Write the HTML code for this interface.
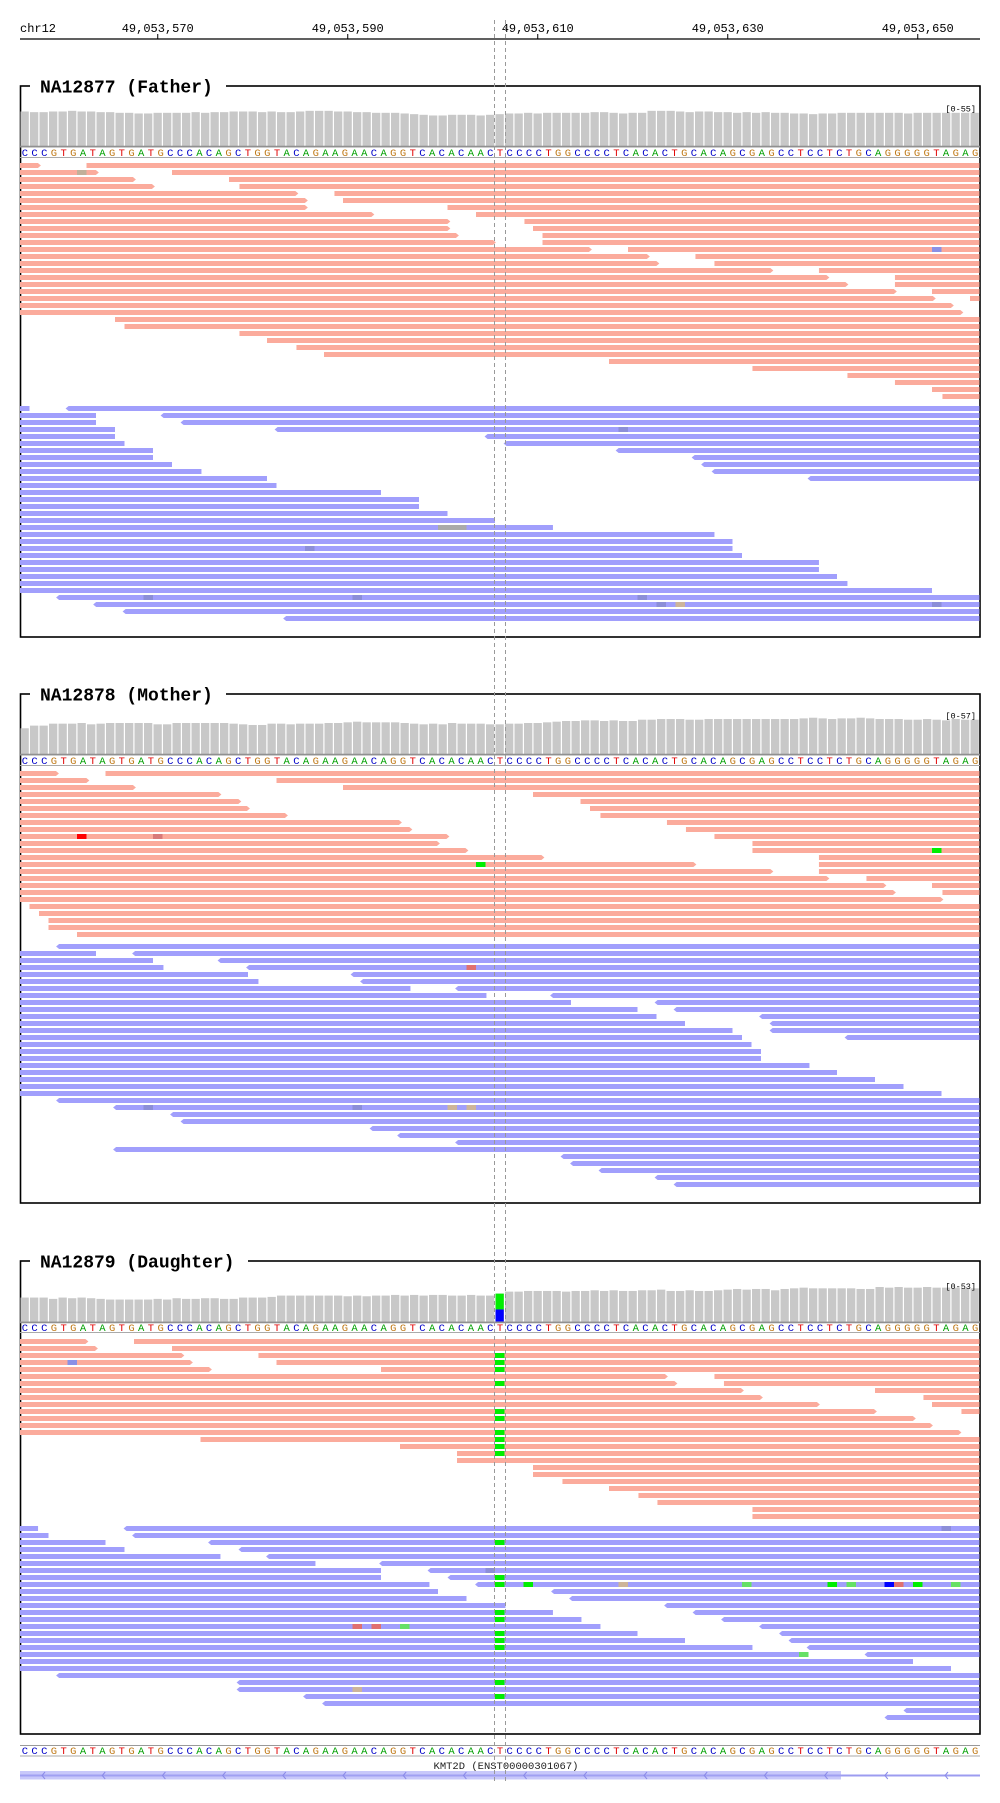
<!DOCTYPE html>
<html><head><meta charset="utf-8"><title>IGV trio view</title>
<style>
html,body{margin:0;padding:0;background:#fff;}
svg{display:block;}
text{font-family:"Liberation Mono","DejaVu Sans Mono",monospace;}
</style></head>
<body>
<svg id="igv" width="1000" height="1803" viewBox="0 0 1000 1803" xmlns="http://www.w3.org/2000/svg"></svg>
<script>
// ---------- data ----------
const tickLabels = ["49,053,570","49,053,590","49,053,610","49,053,630","49,053,650"];
const tickBp = [14.5, 34.5, 54.5, 74.5, 94.5];
const refSeq = "CCCGTGATAGTGATGCCCACAGCTGGTACAGAAGAACAGGTCACACAACTCCCCTGGCCCCTCACACTGCACAGCGAGCCTCCTCTGCAGGGGGTAGAG";

const fatherCov = [52,51,51,52,52,53,52,52,51,51,50,50,49,49,50,50,50,50,51,50,51,51,52,52,52,51,52,51,51,52,53,53,53,52,52,51,51,50,50,50,49,48,47,46,46,47,47,47,46,47,48,49,49,50,49,50,50,50,50,50,51,51,50,49,50,50,53,53,53,52,51,52,52,51,51,50,51,50,51,50,50,49,49,48,49,49,50,50,50,50,50,50,50,49,50,50,50,50,50,50,50];
const motherCov = [39,43,43,46,46,46,47,45,46,47,47,47,47,47,45,45,47,47,47,47,47,47,46,45,44,44,46,46,45,46,46,46,47,47,48,49,48,48,48,48,47,46,45,46,45,47,46,46,46,45,45,46,46,47,47,48,49,50,50,51,51,50,51,50,50,52,52,53,53,53,52,52,53,53,53,53,53,53,53,53,53,53,54,55,54,53,54,54,55,54,53,53,53,52,52,53,52,51,53,52,52];
const daughterCov = [37,37,37,35,37,36,37,36,35,34,34,34,34,34,35,34,36,35,35,36,36,35,35,37,37,37,38,40,40,40,40,40,40,40,39,40,39,40,40,41,40,41,40,41,41,40,40,41,40,40,43,46,46,47,47,47,47,46,47,47,48,47,48,47,47,48,48,49,47,47,48,47,47,48,49,50,49,50,50,48,50,51,52,51,51,51,51,51,50,50,53,52,53,52,52,53,52,52,52,51,51];
const daughterAltBp = 50;
const daughterAltC = 19;

const fatherFwd = [[0,0,2.2],[0,7,101],[1,0,8.3],[1,16,101],[2,0,12.2],[2,22,101],[3,0,14.2],[3,23.1,101],[4,0,29.3],[4,33.1,101],[5,0,30.3],[5,34,101],[6,0,30.3],[6,45,101],[7,0,37.3],[7,48,101],[8,0,45.3],[8,53.1,101],[9,0,45.3],[9,54,101],[10,0,46.2],[10,55,101],[11,0,50.1],[11,55,101],[12,0,60.2],[12,64,101],[13,0,66.3],[13,71.1,101],[14,0,67.3],[14,73.1,101],[15,0,79.3],[15,84.1,101],[16,0,85.2],[16,92.1,101],[17,0,87.2],[17,92.1,101],[18,0,92.3],[18,96,101],[19,0,96.4],[19,100,101],[20,0,98.3],[21,0,99.3],[22,10,101],[23,11,101],[24,23.1,101],[25,26,101],[26,29.1,101],[27,32,101],[28,62,101],[29,77.1,101],[30,87.1,101],[31,92.1,101],[32,96,101],[33,97.1,101]];
const fatherFwdMM = [[1,6,"#c2b09a",1],[12,96,"#8a90e6",1]];
const fatherRev = [[0,0,1],[0,4.8,101],[1,0,8],[1,14.8,101],[2,0,8],[2,16.9,101],[3,0,10],[3,26.8,101],[4,0,10],[4,48.9,101],[5,0,11],[5,50.9,101],[6,0,14],[6,62.7,101],[7,0,14],[7,70.7,101],[8,0,16],[8,71.7,101],[9,0,19.1],[9,72.8,101],[10,0,26],[10,82.9,101],[11,0,27],[12,0,38],[13,0,42],[14,0,42],[15,0,45],[16,0,50],[17,0,56.1],[18,0,73.1],[19,0,75],[20,0,75],[21,0,76],[22,0,84.1],[23,0,84.1],[24,0,86],[25,0,87.1],[26,0,96],[27,3.8,101],[28,7.7,101],[29,10.8,101],[30,27.7,101]];
const fatherRevMM = [[3,63,"#8c8ed8",1],[17,44,"#aaaaaa",3],[20,30,"#8c8ed8",1],[27,13,"#8c8ed8",1],[27,35,"#8c8ed8",1],[27,65,"#8c8ed8",1],[28,67,"#8c8ed8",1],[28,69,"#cdb49a",1],[28,96,"#8c8ed8",1]];

const motherFwd = [[0,0,4.1],[0,9,101],[1,0,7.3],[1,27,101],[2,0,12.2],[2,34,101],[3,0,21.2],[3,54,101],[4,0,23.3],[4,59,101],[5,0,24.2],[5,60,101],[6,0,28.2],[6,61.1,101],[7,0,40.2],[7,68.1,101],[8,0,41.3],[8,70.1,101],[9,0,45.2],[9,73.1,101],[10,0,44.2],[10,77.1,101],[11,0,47.2],[11,77.1,101],[12,0,55.2],[12,84.1,101],[13,0,71.2],[13,84.1,101],[14,0,79.3],[14,84.1,101],[15,0,85.2],[15,89.1,101],[16,0,91.2],[16,96,101],[17,0,92.2],[17,97.1,101],[18,0,97.2],[19,1,101],[20,2,101],[21,3,101],[22,3,101],[23,6,101]];
const motherFwdMM = [[9,6,"#ff0000",1],[9,14,"#d87a7a",1],[11,96,"#00ee00",1],[13,48,"#00ee00",1]];
const motherRev = [[0,3.8,101],[1,0,8],[1,11.8,101],[2,0,14],[2,20.8,101],[3,0,15.1],[3,23.8,101],[4,0,24],[4,34.8,101],[5,0,25.1],[5,35.8,101],[6,0,41.1],[6,45.8,101],[7,0,49.1],[7,55.8,101],[8,0,58],[8,66.8,101],[9,0,65],[9,68.8,101],[10,0,67],[10,77.8,101],[11,0,70],[11,78.9,101],[12,0,75],[12,78.9,101],[13,0,76],[13,86.8,101],[14,0,77],[15,0,78],[16,0,78],[17,0,83.1],[18,0,86],[19,0,90],[20,0,93],[21,0,97],[22,3.8,101],[23,9.8,101],[24,15.8,101],[25,16.9,101],[26,36.8,101],[27,39.7,101],[28,45.8,101],[29,9.8,101],[30,56.9,101],[31,57.9,101],[32,60.9,101],[33,66.8,101],[34,68.8,101]];
const motherRevMM = [[3,47,"#e07070",1],[23,13,"#8c8ed8",1],[23,35,"#8c8ed8",1],[23,45,"#cdb49a",1],[23,47,"#cdb49a",1]];

const daughterFwd = [[0,0,7.2],[0,12,101],[1,0,8.2],[1,16,101],[2,0,17.3],[2,25.1,101],[3,0,18.2],[3,27,101],[4,0,20.2],[4,38,101],[5,0,68.2],[5,73.1,101],[6,0,69.2],[6,74.1,101],[7,0,76.2],[7,90,101],[8,0,78.2],[8,95.1,101],[9,0,84.2],[9,96,101],[10,0,90.2],[10,99.1,101],[11,0,94.3],[12,0,96.1],[13,0,99.1],[14,19,101],[15,40,101],[16,46,101],[17,46,101],[18,54,101],[19,54,101],[20,57.1,101],[21,62,101],[22,65.1,101],[23,67.1,101],[24,77.1,101],[25,77.1,101]];
const daughterFwdMM = [[2,50,"#00ee00",1],[3,50,"#00ee00",1],[4,50,"#00ee00",1],[6,50,"#00ee00",1],[10,50,"#00ee00",1],[11,50,"#00ee00",1],[13,50,"#00ee00",1],[14,50,"#00ee00",1],[15,50,"#00ee00",1],[16,50,"#00ee00",1],[3,5,"#8a90e6",1]];
const daughterRev = [[0,0,1.9],[0,10.9,101],[1,0,3],[1,11.8,101],[2,0,9],[2,19.8,101],[3,0,11],[3,23,101],[4,0,21.1],[4,25.9,101],[5,0,31.1],[5,37.8,101],[6,0,38],[6,42.9,101],[7,0,38],[7,45,101],[8,0,43.1],[8,47.9,101],[9,0,44],[9,55.9,101],[10,0,47],[10,57.8,101],[11,0,51.1],[11,67.8,101],[12,0,56.1],[12,70.8,101],[13,0,59.1],[13,73.8,101],[14,0,61.1],[14,77.8,101],[15,0,65],[15,79.9,101],[16,0,70],[16,80.9,101],[17,0,77.1],[17,82.8,101],[18,0,82.7],[18,88.9,101],[19,0,94],[20,0,98],[21,3.8,101],[22,22.8,101],[23,22.8,101],[24,29.8,101],[25,31.8,101],[26,93,101],[27,91,101]];
const daughterRevMM = [[0,97,"#8c8ed8",1],[2,50,"#00ee00",1],[6,49,"#8c8ed8",1],[7,50,"#00ee00",1],[8,50,"#00ee00",1],[8,53,"#00ee00",1],[8,63,"#cdb49a",1],[8,76,"#66e066",1],[8,85,"#00ee00",1],[8,87,"#66e066",1],[8,91,"#0000ff",1],[8,92,"#e07070",1],[8,94,"#00ee00",1],[8,98,"#66e066",1],[12,50,"#00ee00",1],[13,50,"#00ee00",1],[14,35,"#e07070",1],[14,37,"#e07070",1],[14,40,"#66e066",1],[15,50,"#00ee00",1],[16,50,"#00ee00",1],[17,50,"#00ee00",1],[18,82,"#66e066",1],[22,50,"#00ee00",1],[23,35,"#cdb49a",1],[24,50,"#00ee00",1]];

const trackNames = ["NA12877 (Father)","NA12878 (Mother)","NA12879 (Daughter)"];
const covMax = [55,57,53];

// ---------- layout ----------
const svg = document.getElementById('igv');
const NS = "http://www.w3.org/2000/svg";
const X0 = 20, BPW = 9.5, XR = 980;
function x(bp){ return X0 + bp*BPW; }
function mk(tag, attrs, parent){
  const e = document.createElementNS(NS, tag);
  for (const k in attrs) e.setAttribute(k, attrs[k]);
  (parent||svg).appendChild(e);
  return e;
}
const layout = [
  {top:86, bottom:637, covBase:146, covH:36.5, seqY:156, seqLine:157.5, fwd:163, rev:406, titleW:196},
  {top:694, bottom:1203, covBase:754, covH:37.6, seqY:764, seqLine:765.5, fwd:771, rev:944, titleW:196},
  {top:1261, bottom:1734, covBase:1322, covH:35, seqY:1331, seqLine:1332.5, fwd:1339, rev:1526, titleW:218}
];
const baseColor = {A:"#00a000", C:"#0000c8", G:"#c07a18", T:"#e00000"};

// ruler
let g = mk('g', {});


let t = mk('text', {x:20, y:32, 'font-size':12, fill:'#000'}, g);
t.textContent = 'chr12';


let ln = mk('line', {x1:20, y1:39, x2:980, y2:39, stroke:'#000', 'stroke-width':1.3}, g);


tickLabels.forEach((lab,i)=>{
  const tx = x(tickBp[i]);
  const tk = mk('line', {x1:tx, y1:34, x2:tx, y2:39, stroke:'#000', 'stroke-width':1}, g);
  
  
  const tl = mk('text', {x:tx, y:32, 'font-size':12, 'text-anchor':'middle', fill:'#000'}, g);
  tl.textContent = lab;
  
  
});

function drawSeq(parent, y, lineY){
  const top = mk('line', {x1:20, y1:lineY-10.5, x2:980, y2:lineY-10.5, stroke:'#999', 'stroke-width':1}, parent);
  
  
  const bot = mk('line', {x1:20, y1:lineY, x2:980, y2:lineY, stroke:'#aaa', 'stroke-width':1}, parent);
  
  
  const step = 960/refSeq.length;
  for (let i=0;i<refSeq.length;i++){
    const c = refSeq[i];
    const s = mk('text', {x:20+step*(i+0.5), y:y, 'font-size':10.5, 'text-anchor':'middle', fill:baseColor[c]}, parent);
    s.textContent = c;
    
    
  }
}

function drawReads(parent, reads, mm, base, fwd){
  const col = fwd ? '#fbab9c' : '#a19ffc';
  reads.forEach(r=>{
    const row=r[0], s=r[1], e=r[2];
    const y = base + row*7;
    let x1 = x(s), x2 = Math.min(x(e), XR);
    let el;
    if (fwd && e < 100.9){
      el = mk('path', {d:`M${x1},${y}H${x2-3}L${x2},${y+2.5}L${x2-3},${y+5}H${x1}Z`, fill:col}, parent);
    } else if (!fwd && s > 0.1){
      el = mk('path', {d:`M${x1+3},${y}H${x2}V${y+5}H${x1+3}L${x1},${y+2.5}Z`, fill:col}, parent);
    } else {
      el = mk('rect', {x:x1, y:y, width:x2-x1, height:5, fill:col}, parent);
    }
    
    
  });
  mm.forEach(m=>{
    const y = base + m[0]*7;
    const r = mk('rect', {x:x(m[1]), y:y, width:BPW*m[3], height:5, fill:m[2]}, parent);
    
    
  });
}

const covs = [fatherCov, motherCov, daughterCov];
const fwds = [fatherFwd, motherFwd, daughterFwd];
const fwdMMs = [fatherFwdMM, motherFwdMM, daughterFwdMM];
const revs = [fatherRev, motherRev, daughterRev];
const revMMs = [fatherRevMM, motherRevMM, daughterRevMM];

layout.forEach((L,ti)=>{
  const tg = mk('g', {});
  
  
  const fr = mk('rect', {x:20.5, y:L.top, width:959.5, height:L.bottom-L.top, fill:'none', stroke:'#000', 'stroke-width':1.6}, tg);
  
  
  const bg = mk('rect', {x:30, y:L.top-12, width:L.titleW, height:24, fill:'#fff'}, tg);
  
  
  const tt = mk('text', {x:40, y:L.top+6.5, 'font-size':18, 'font-weight':'bold', fill:'#000'}, tg);
  tt.textContent = trackNames[ti];
  
  
  // coverage
  const cg = mk('g', {}, tg);
  
  
  covs[ti].forEach((v,i)=>{
    const h = v/covMax[ti]*L.covH;
    const b = mk('rect', {x:x(i)+0.5, y:L.covBase-h, width:BPW-1.2, height:h, fill:'#c8c8c8'}, cg);
    
    
  });
  if (ti===2){
    const v = covs[2][daughterAltBp];
    const h = v/covMax[2]*L.covH, hc = daughterAltC/covMax[2]*L.covH;
    const ga = mk('rect', {x:x(daughterAltBp)+0.5, y:L.covBase-h, width:BPW-1.2, height:h-hc, fill:'#00ee00'}, cg);
    
    
    const gc = mk('rect', {x:x(daughterAltBp)+0.5, y:L.covBase-hc, width:BPW-1.2, height:hc, fill:'#0000ff'}, cg);
    
    
  }
  const cb = mk('line', {x1:20, y1:L.covBase+0.5, x2:980, y2:L.covBase+0.5, stroke:'#888', 'stroke-width':1.5}, cg);
  
  
  const rl = mk('text', {x:976, y:L.covBase-L.covH+2, 'font-size':8.5, 'text-anchor':'end', fill:'#000'}, cg);
  rl.textContent = '[0-'+covMax[ti]+']';
  
  
  const sg = mk('g', {}, tg);
  
  
  drawSeq(sg, L.seqY, L.seqLine);
  const rg = mk('g', {}, tg);
  
  
  drawReads(rg, fwds[ti], fwdMMs[ti], L.fwd, true);
  drawReads(rg, revs[ti], revMMs[ti], L.rev, false);
});

// bottom sequence
const bs = mk('g', {});


drawSeq(bs, 1754, 1756);

// gene track
const gg = mk('g', {});


const gl = mk('text', {x:506, y:1769, 'font-size':10.5, 'text-anchor':'middle', fill:'#222'}, gg);
gl.textContent = 'KMT2D (ENST00000301067)';


const gline = mk('rect', {x:20, y:1774.5, width:960, height:2, fill:'#9c9cf0'}, gg);


const gbox = mk('rect', {x:20, y:1771, width:821, height:8.5, fill:'#c8c8fa'}, gg);


const gl2 = mk('rect', {x:20, y:1774.5, width:821, height:2, fill:'#a0a0f2'}, gg);


for (let cx=43; cx<980; cx+=60.2){
  const ch = mk('polyline', {points:`${cx+2},${1772} ${cx-1},${1775.5} ${cx+2},${1779}`, fill:'none', stroke:'#8a8ae8', 'stroke-width':1}, gg);
  
  
}

// center guide lines
[494.5, 505.5].forEach(cx=>{
  const d = mk('line', {x1:cx, y1:20, x2:cx, y2:1782, stroke:'#999', 'stroke-width':1, 'stroke-dasharray':'4,3'});
  
  
});
</script>
</body></html>
